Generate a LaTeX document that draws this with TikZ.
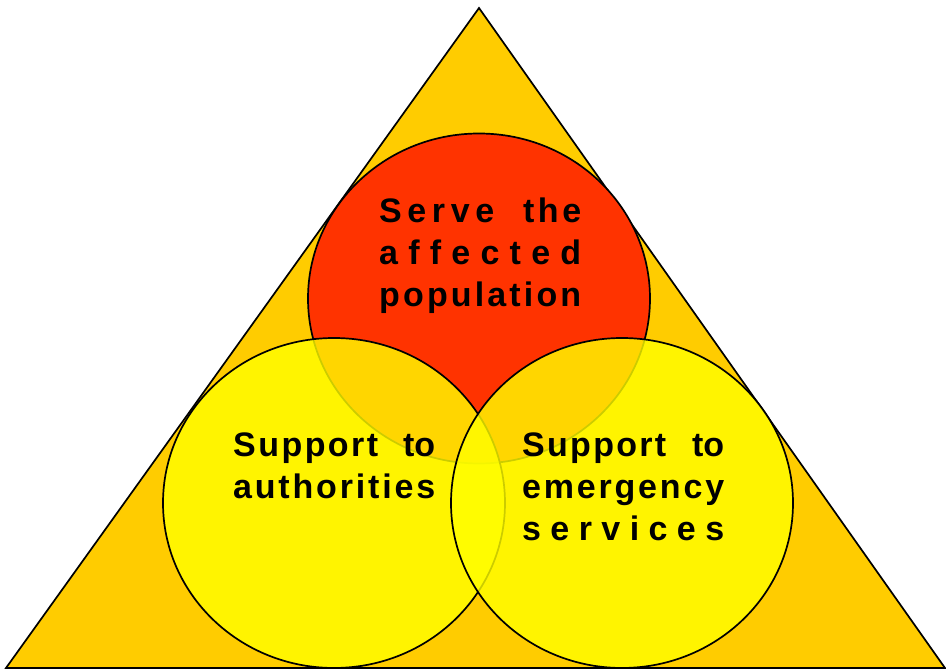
\documentclass[tikz,border=0pt]{standalone}
\usepackage{fontspec}
\setmainfont{Liberation Sans}
\definecolor{triorange}{HTML}{FFCC00}
\definecolor{circred}{HTML}{FF3300}
\definecolor{circyellow}{HTML}{FFFF00}
\newcommand\jline[1]{\hbox to 202pt{#1}}
\newcommand\wbox[2]{\hbox to #1{#2}}
\begin{document}
\begin{tikzpicture}[x=1pt,y=1pt,
  outline/.style={draw=black, line width=1.7pt},
  lbl/.style={anchor=base west, inner sep=0pt, font=\fontsize{34}{42}\selectfont\bfseries}]
\useasboundingbox (0,0) rectangle (946,669);
\coordinate (apex) at (479,661);
\coordinate (bl) at (6,1);
\coordinate (br) at (945,1);
\filldraw[outline, fill=triorange, line join=miter] (bl) -- (apex) -- (br) -- cycle;
\filldraw[outline, fill=circred] (479,370.5) ellipse [x radius=171, y radius=165];
\filldraw[outline, fill=circyellow, fill opacity=0.8] (334,166) ellipse [x radius=171, y radius=165];
\filldraw[outline, fill=circyellow, fill opacity=0.8] (622,166) ellipse [x radius=171, y radius=165];
\node[lbl] (serve) at (379,446) {\vtop{%
  \jline{\wbox{115pt}{S\hfil e\hfil r\hfil v\hfil e}\hfill\wbox{58pt}{t\hfil h\hfil e}}%
  \jline{a\hfil f\hfil f\hfil e\hfil c\hfil t\hfil e\hfil d}%
  \jline{p\hfil o\hfil p\hfil u\hfil l\hfil a\hfil t\hfil i\hfil o\hfil n}}};
\node[lbl] (auth) at (233,212) {\vtop{%
  \jline{\wbox{145pt}{S\hfil u\hfil p\hfil p\hfil o\hfil r\hfil t}\hfill to}%
  \jline{a\hfil u\hfil t\hfil h\hfil o\hfil r\hfil i\hfil t\hfil i\hfil e\hfil s}}};
\node[lbl] (emerg) at (522,212) {\vtop{%
  \jline{\wbox{144pt}{S\hfil u\hfil p\hfil p\hfil o\hfil r\hfil t}\hfill to}%
  \jline{e\hfil m\hfil e\hfil r\hfil g\hfil e\hfil n\hfil c\hfil y}%
  \jline{s\hfil e\hfil r\hfil v\hfil i\hfil c\hfil e\hfil s}}};
\end{tikzpicture}
\end{document}
